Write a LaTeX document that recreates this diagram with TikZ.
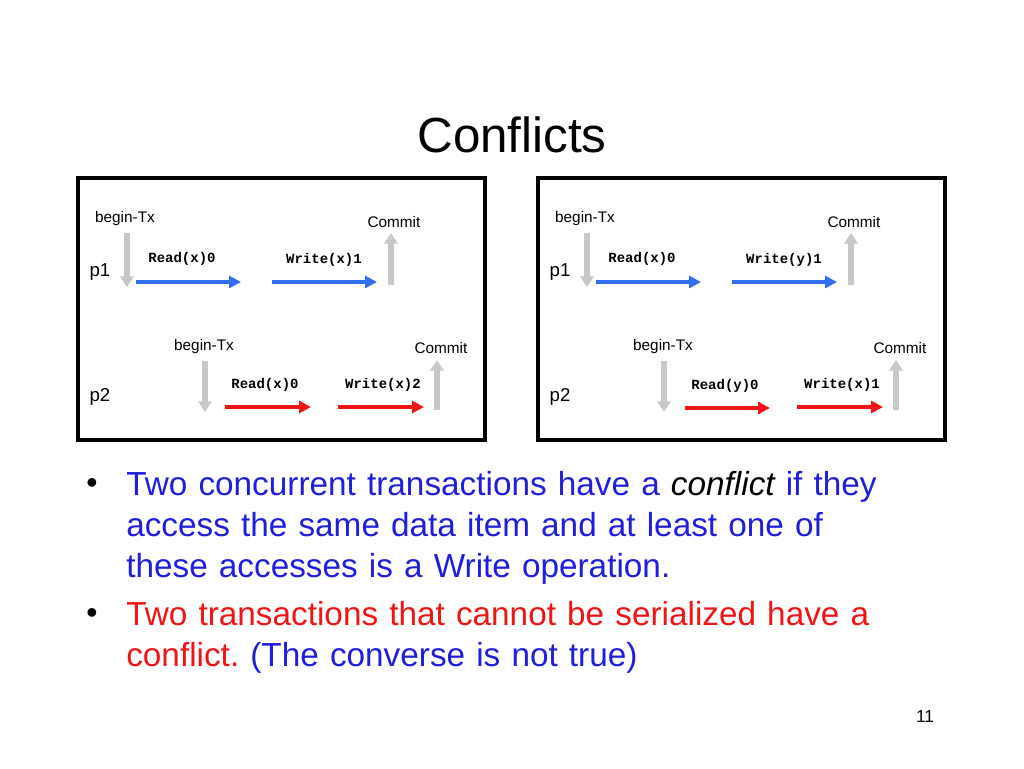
\documentclass[tikz,border=0pt]{standalone}
\usepackage{fontspec}
\setmainfont{Liberation Sans}
\setmonofont{Liberation Mono}
\usetikzlibrary{arrows.meta}
\definecolor{ablue}{RGB}{50,110,240}
\definecolor{ared}{RGB}{240,20,20}
\definecolor{agray}{RGB}{200,200,200}
\definecolor{txtblue}{RGB}{30,30,220}
\tikzset{
  lbl/.style={font=\fontsize{11.5}{13}\selectfont, inner sep=0pt},
  op/.style={font=\fontsize{10.5}{12}\ttfamily\bfseries, inner sep=0pt},
  gar/.style={draw=agray, line width=4.5pt, -{Triangle[length=8pt,width=10pt]}},
  bar/.style={draw=ablue, line width=2.4pt, -{Triangle[length=9pt,width=9pt]}},
  rar/.style={draw=ared, line width=2.4pt, -{Triangle[length=9pt,width=9pt]}},
  frame/.style={draw, line width=2.6pt},
  dot/.style={font=\fontsize{24}{28}\selectfont, inner sep=0pt},
  bul/.style={font=\fontsize{25}{30.8}\selectfont, anchor=north west, inner sep=0pt, align=left, text width=590pt, execute at begin node={\frenchspacing\hyphenpenalty=10000\exhyphenpenalty=10000\raggedright}}
}
\begin{document}
\begin{tikzpicture}[x=0.75pt,y=-0.75pt]
\useasboundingbox (0,0) rectangle (1024,768);
\node (title) at (512,135) {\fontsize{37}{40}\selectfont Conflicts};
\foreach \o/\wa in {0/x, 460/y}{
\begin{scope}[xshift=\o*0.75pt]
\coordinate (fa) at (78,178); \coordinate (fb) at (485,440);
\draw[frame] (fa) rectangle (fb);
\node[lbl] (bt1) at (125,219) {begin-Tx};
\coordinate (g1a) at (127,233); \coordinate (g1b) at (127,287);
\draw[gar] (g1a) -- (g1b);
\node[font=\fontsize{14}{16}\selectfont, inner sep=0pt] (p1) at (100,272) {p1};
\node[op] (r1) at (182,259) {Read(x)0};
\coordinate (b1a) at (136,282); \coordinate (b1b) at (241,282);
\draw[bar] (b1a) -- (b1b);
\node[op] (w1) at (324,260) {Write(\wa)1};
\coordinate (b2a) at (272,282); \coordinate (b2b) at (377,282);
\draw[bar] (b2a) -- (b2b);
\node[lbl] (c1) at (394,222) {Commit};
\coordinate (u1a) at (391,285); \coordinate (u1b) at (391,233);
\draw[gar] (u1a) -- (u1b);
\node[font=\fontsize{14}{16}\selectfont, inner sep=0pt] (p2) at (100,397) {p2};
\end{scope}}
% left bottom row
\node[lbl] (bt2) at (204,347) {begin-Tx};
\coordinate (g2a) at (205,361); \coordinate (g2b) at (205,412);
\draw[gar] (g2a) -- (g2b);
\node[op] (r2) at (265,385) {Read(x)0};
\coordinate (ra) at (225,407); \coordinate (rb) at (311,407);
\draw[rar] (ra) -- (rb);
\node[op] (w2) at (383,385) {Write(x)2};
\coordinate (rc) at (338,407); \coordinate (rd) at (424,407);
\draw[rar] (rc) -- (rd);
\node[lbl] (c2) at (441,348) {Commit};
\coordinate (u2a) at (437,410); \coordinate (u2b) at (437,360);
\draw[gar] (u2a) -- (u2b);
% right bottom row
\node[lbl] (bt3) at (663,347) {begin-Tx};
\coordinate (g3a) at (664,361); \coordinate (g3b) at (664,412);
\draw[gar] (g3a) -- (g3b);
\node[op] (r3) at (725,386) {Read(y)0};
\coordinate (rf) at (685,408); \coordinate (rg) at (770,408);
\draw[rar] (rf) -- (rg);
\node[op] (w3) at (842,385) {Write(x)1};
\coordinate (rh) at (797,407); \coordinate (ri) at (883,407);
\draw[rar] (rh) -- (ri);
\node[lbl] (c3) at (900,348) {Commit};
\coordinate (u3a) at (896,410); \coordinate (u3b) at (896,360);
\draw[gar] (u3a) -- (u3b);
% bullets
\node[dot] (d1) at (92,486) {•};
\node[bul, text=txtblue] (t1) at (126,471) {Two concurrent transactions have a \textit{\color{black}conflict} if they access the same data item and at least one of these accesses is a Write operation.};
\node[dot] (d2) at (92,616) {•};
\node[bul, text=ared] (t2) at (126,601) {Two transactions that cannot be serialized have a conflict. \textcolor{txtblue}{(The converse is not true)}};
\node[font=\fontsize{13}{15}\selectfont, inner sep=0pt] (pg) at (925,717) {11};
\end{tikzpicture}
\end{document}
